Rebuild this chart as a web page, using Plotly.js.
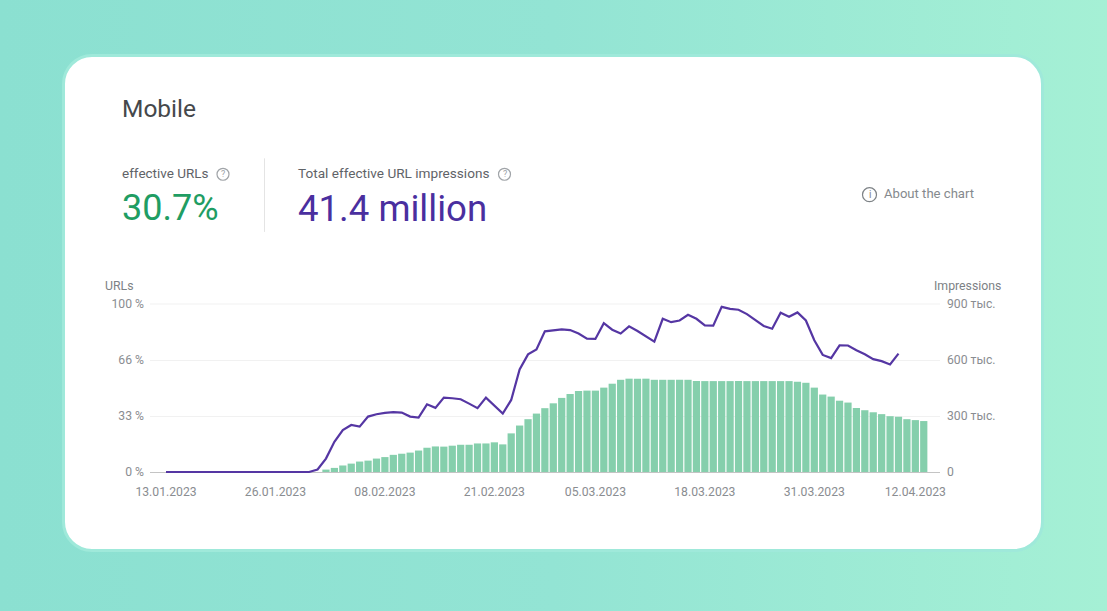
<!DOCTYPE html>
<html>
<head>
<meta charset="utf-8">
<script src="https://cdn.plot.ly/plotly-3.0.1.min.js"></script>
<style>
html,body{margin:0;padding:0;width:1107px;height:611px;overflow:hidden;background:linear-gradient(90deg,#8be0d1 0%,#93e4d4 50%,#a5f0d5 100%);}
#card{position:absolute;left:62px;top:54px;width:976px;height:492px;background:#fff;border:3px solid #9fe9da;border-radius:30px;}
#chart{position:absolute;left:0;top:0;width:1107px;height:611px;}
</style>
</head>
<body>
<div id="card"></div>
<div id="chart"></div>
<script>
const dates = [
"2023-01-13","2023-01-14","2023-01-15","2023-01-16","2023-01-17","2023-01-18","2023-01-19","2023-01-20","2023-01-21","2023-01-22",
"2023-01-23","2023-01-24","2023-01-25","2023-01-26","2023-01-27","2023-01-28","2023-01-29","2023-01-30","2023-01-31","2023-02-01",
"2023-02-02","2023-02-03","2023-02-04","2023-02-05","2023-02-06","2023-02-07","2023-02-08","2023-02-09","2023-02-10","2023-02-11",
"2023-02-12","2023-02-13","2023-02-14","2023-02-15","2023-02-16","2023-02-17","2023-02-18","2023-02-19","2023-02-20","2023-02-21",
"2023-02-22","2023-02-23","2023-02-24","2023-02-25","2023-02-26","2023-02-27","2023-02-28","2023-03-01","2023-03-02","2023-03-03",
"2023-03-04","2023-03-05","2023-03-06","2023-03-07","2023-03-08","2023-03-09","2023-03-10","2023-03-11","2023-03-12","2023-03-13",
"2023-03-14","2023-03-15","2023-03-16","2023-03-17","2023-03-18","2023-03-19","2023-03-20","2023-03-21","2023-03-22","2023-03-23",
"2023-03-24","2023-03-25","2023-03-26","2023-03-27","2023-03-28","2023-03-29","2023-03-30","2023-03-31","2023-04-01","2023-04-02",
"2023-04-03","2023-04-04","2023-04-05","2023-04-06","2023-04-07","2023-04-08","2023-04-09","2023-04-10","2023-04-11","2023-04-12",
"2023-04-13"];
const urlsPct = [
0,0,0,0,0,0,0,0,0,0,
0,0,0,0,0,0,0,0,1.5,8,
18,25,28,27,33,34.4,35.2,35.6,35.4,33,
32.4,40.3,38.2,44.3,43.9,43.3,40.7,38,44.3,39.8,
34.8,42.9,61,70,72.9,83.7,84.3,84.9,84.5,82.4,
79.4,79.2,88.6,84.7,82.4,86.7,83.9,81,77.6,91.2,
89.2,90.2,93.6,91.2,87.3,87.1,98.3,97.1,96.6,94,
90.2,86.9,85.3,94.8,92.4,95,90.2,78.4,69.7,67.8,
75.4,75.3,72.5,70.1,67.2,66,64,70.5];
const impressions = [
0,0,0,0,0,0,0,0,0,0,
0,0,0,0,0,0,0,0,0,13000,
22000,35000,45000,56000,61000,72000,80000,92000,98000,104000,
115000,130000,137000,136000,141000,146000,146000,153000,153000,159000,
148000,207000,249000,283000,313000,342000,368000,397000,418000,434000,
436000,436000,452000,473000,494000,500000,500000,500000,494000,494000,
494000,494000,494000,487000,487000,487000,487000,487000,487000,487000,
487000,487000,487000,487000,487000,484000,478000,452000,415000,404000,
382000,372000,343000,331000,320000,310000,299000,296000,283000,278000,
273000];
const xTicks = ["2023-01-13","2023-01-26","2023-02-08","2023-02-21","2023-03-05","2023-03-18","2023-03-31","2023-04-12"];
const xLabels = ["13.01.2023","26.01.2023","08.02.2023","21.02.2023","05.03.2023","18.03.2023","31.03.2023","12.04.2023"];
const leftTicks = [0,33.33,66.67,100];
const leftLabels = ["0 %","33 %","66 %","100 %"];
const rightTicks = [0,300000,600000,900000];
const rightLabels = ["0","300 тыс.","600 тыс.","900 тыс."];

const L=150,R=940,T=303.5,B=474.5;
const px=x=>(x-L)/(R-L), py=y=>(B-y)/(B-T);
const FONT='Roboto, sans-serif';
function note(x,y,text,size,color,anchor,family){
  return {xref:'paper',yref:'paper',x:px(x),y:py(y),text:text,showarrow:false,xanchor:anchor||'left',yanchor:'middle',
    font:{family:family||FONT,size:size,color:color},borderpad:0};
}
function ring(cx,cy,r,color){
  return {type:'circle',xref:'paper',yref:'paper',x0:px(cx-r),x1:px(cx+r),y0:py(cy+r),y1:py(cy-r),
    line:{color:color,width:1.2},fillcolor:'rgba(0,0,0,0)'};
}
const traces=[
  {type:'bar',name:'Impressions',x:dates,y:impressions,yaxis:'y',marker:{color:'#85cfac',line:{width:0}},hoverinfo:'x+y'},
  {type:'scatter',mode:'lines',name:'URLs',x:dates.slice(0,urlsPct.length),y:urlsPct,yaxis:'y2',line:{color:'#5536a3',width:2.2},hoverinfo:'x+y'}
];
const layout={
  width:1107,height:611,autosize:false,showlegend:false,
  margin:{l:L,r:1107-R,t:T,b:611-B,pad:0},
  paper_bgcolor:'rgba(0,0,0,0)',plot_bgcolor:'rgba(0,0,0,0)',
  bargap:0.14,
  font:{family:FONT,size:12,color:'#8a8d91'},
  xaxis:{type:'date',range:['2023-01-11 02:24','2023-04-14 22:19'],tickmode:'array',tickvals:xTicks,ticktext:xLabels,
    tickangle:0,ticks:'',showgrid:false,zeroline:false,showline:false,
    tickfont:{size:12.2,color:'#8a8d91'},ticklabelstandoff:9},
  yaxis:{side:'right',range:[-10651,900000],tickmode:'array',tickvals:rightTicks,ticktext:rightLabels,showgrid:true,gridcolor:'#f1f1f1',gridwidth:1,
    zeroline:true,zerolinecolor:'#c4c4c4',zerolinewidth:1,ticks:'',showline:false,tickfont:{size:12.2,color:'#8a8d91'},ticklabelstandoff:6},
  yaxis2:{side:'left',overlaying:'y',range:[-1.183,100],tickmode:'array',tickvals:leftTicks,ticktext:leftLabels,showgrid:false,
    zeroline:false,ticks:'',showline:false,tickfont:{size:12.2,color:'#8a8d91'},ticklabelstandoff:5},
  shapes:[
    {type:'line',xref:'paper',yref:'paper',x0:0,x1:1,y0:1,y1:1,line:{color:'#f1f1f1',width:1},layer:'below'},
    {type:'line',xref:'paper',yref:'paper',x0:px(264.5),x1:px(264.5),y0:py(157),y1:py(231),line:{color:'#e4e4e4',width:1}},
    ring(223,173,6,'#a0a4a8'),ring(504.5,173,6,'#a0a4a8'),ring(869.5,193.5,7,'#7d8286')
  ],
  annotations:[
    note(120.5,106.5,'Mobile',24.5,'#45484b'),
    note(120.5,172,'effective URLs',13.5,'#5f6368'),
    note(120.5,207,'30.7%',36,'#1f9d63'),
    note(296.5,172,'Total effective URL impressions',13.6,'#5f6368'),
    note(296.5,207,'41.4 million',36.6,'#4a2f9f'),
    note(883,192.5,'About the chart',13.1,'#85898d'),
    note(223,173,'?',9,'#a0a4a8','center'),
    note(504.5,173,'?',9,'#a0a4a8','center'),
    note(869.5,193.5,'i',10,'#7d8286','center'),
    note(104,285.5,'URLs',12.3,'#7d8185'),
    note(1002,285.5,'Impressions',12.3,'#7d8185','right')
  ]
};
Plotly.newPlot('chart',traces,layout,{displayModeBar:false,responsive:false});
</script>
</body>
</html>
